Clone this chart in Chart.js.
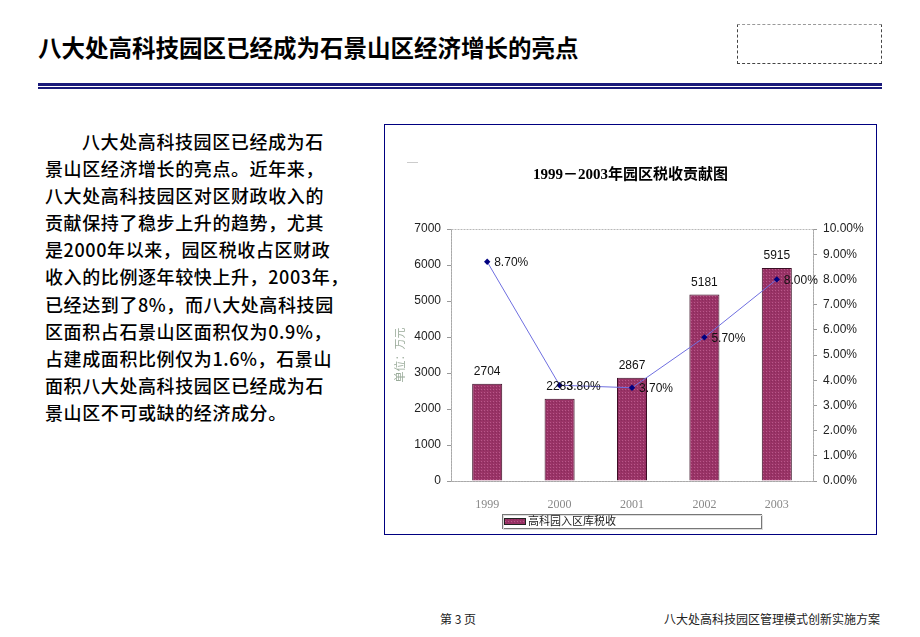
<!DOCTYPE html>
<html>
<head>
<meta charset="utf-8">
<script src="https://cdn.jsdelivr.net/npm/chart.js@4.4.1/dist/chart.umd.min.js"></script>
<style>
  html, body { margin: 0; padding: 0; background: #fff; }
  body { width: 920px; height: 637px; position: relative; overflow: hidden; font-family: "Noto Sans CJK SC", sans-serif; }
  #title { position: absolute; left: 38px; top: 34px; font-size: 23.5px; line-height: 26px; font-weight: 700; color: #000; white-space: nowrap; }
  #dashbox { position: absolute; left: 737px; top: 24px; width: 143px; height: 38px; border: 1px dashed #444; border-top-color: #999; }
  .rule1 { position: absolute; left: 38px; width: 844px; top: 83px; height: 3px; background: #1a1a7a; }
  .rule2 { position: absolute; left: 38px; width: 844px; top: 87px; height: 2px; background: #1a1a7a; }
  #para { position: absolute; left: 45px; top: 128px; font-size: 18px; line-height: 27.1px; font-weight: 500; color: #000; letter-spacing: 0.6px; white-space: nowrap; }
  #para .l1 { padding-left: 37px; }
  #frame { position: absolute; left: 384px; top: 124px; width: 491px; height: 409px; border: 1px solid #000080; }
  #chartwrap { position: absolute; left: 385px; top: 125px; width: 491px; height: 409px; }
  #dash2 { position: absolute; left: 407px; top: 162px; width: 11px; height: 1px; background: #ccc; }
  .foot { position: absolute; top: 611px; font-size: 12px; line-height: 16px; color: #222; white-space: pre; }
</style>
</head>
<body>
<div id="title">八大处高科技园区已经成为石景山区经济增长的亮点</div>
<div id="dashbox"></div>
<div class="rule1"></div>
<div class="rule2"></div>
<div id="para">
  <div class="l1">八大处高科技园区已经成为石</div>
  <div>景山区经济增长的亮点。近年来，</div>
  <div>八大处高科技园区对区财政收入的</div>
  <div>贡献保持了稳步上升的趋势，尤其</div>
  <div>是2000年以来，园区税收占区财政</div>
  <div>收入的比例逐年较快上升，2003年，</div>
  <div>已经达到了8%，而八大处高科技园</div>
  <div>区面积占石景山区面积仅为0.9%，</div>
  <div>占建成面积比例仅为1.6%，石景山</div>
  <div>面积八大处高科技园区已经成为石</div>
  <div>景山区不可或缺的经济成分。</div>
</div>
<div id="frame"></div>
<div id="chartwrap"><canvas id="c" width="491" height="409"></canvas></div>
<div id="dash2"></div>
<div class="foot" style="left:440px;">第 3 页</div>
<div class="foot" style="left:664px;">八大处高科技园区管理模式创新实施方案</div>

<script>
// ---- data ----
const years = ["1999", "2000", "2001", "2002", "2003"];
const taxValues = [2704, 2283, 2867, 5181, 5915];          // 万元
const sharePercent = [8.70, 3.80, 3.70, 5.70, 8.00];        // %
const barLabel = "高科园入区库税收";
const lineLabel = "园区税收占区财政收入比例";
const chartTitle = "1999－2003年园区税收贡献图";
const leftAxisTitle = "单位：万元";

// dotted maroon fill
function makePattern() {
  const p = document.createElement('canvas');
  p.width = 3; p.height = 3;
  const g = p.getContext('2d');
  g.fillStyle = '#993366'; g.fillRect(0, 0, 3, 3);
  g.fillStyle = '#b8588a'; g.fillRect(0, 0, 1, 1);
  g.fillStyle = '#8a2c5c'; g.fillRect(2, 1, 1, 1);
  return document.getElementById('c').getContext('2d').createPattern(p, 'repeat');
}
const barFill = makePattern();

const serif = "'Liberation Serif', 'Noto Sans CJK SC', serif";
const sans = "'Liberation Sans', Arial, sans-serif";

const labelsPlugin = {
  id: 'labelsPlugin',
  afterDatasetsDraw(chart) {
    const ctx = chart.ctx;
    ctx.save();
    const bm = chart.getDatasetMeta(0);
    ctx.font = "12px " + sans;
    ctx.fillStyle = '#111';
    ctx.textAlign = 'center';
    ctx.textBaseline = 'bottom';
    bm.data.forEach((el, i) => {
      ctx.fillText(String(chart.data.datasets[0].data[i]), el.x, el.y - 6);
    });
    const lm = chart.getDatasetMeta(1);
    ctx.textAlign = 'left';
    ctx.textBaseline = 'middle';
    lm.data.forEach((el, i) => {
      ctx.fillText(chart.data.datasets[1].data[i].toFixed(2) + '%', el.x + 7, el.y + 1);
    });
    ctx.restore();
  },
  beforeDatasetsDraw(chart) {
    const {ctx, chartArea: a} = chart;
    ctx.save();
    ctx.strokeStyle = '#b8b8b8';
    ctx.lineWidth = 1;
    ctx.setLineDash([2, 1]);
    ctx.strokeRect(Math.round(a.left) + 0.5, Math.round(a.top) + 0.5, Math.round(a.right - a.left), Math.round(a.bottom - a.top));
    ctx.restore();
  },
  afterDraw(chart) {
    const ctx = chart.ctx;
    const ds = chart.data.datasets[0];
    ctx.save();
    ctx.strokeStyle = '#777';
    ctx.lineWidth = 1;
    ctx.strokeRect(117.5, 389.5, 259, 14);
    ctx.strokeStyle = '#ddd';
    ctx.strokeRect(118.5, 390.5, 259, 14);
    ctx.fillStyle = ds.backgroundColor;
    ctx.fillRect(119, 393, 22, 7);
    ctx.strokeStyle = '#222';
    ctx.strokeRect(119.5, 393.5, 21, 6);
    ctx.fillStyle = '#222';
    ctx.font = "11px " + serif;
    ctx.textAlign = 'left';
    ctx.textBaseline = 'middle';
    ctx.fillText(ds.label, 143, 397);
    ctx.restore();
  }
};

new Chart(document.getElementById('c'), {
  data: {
    labels: years,
    datasets: [
      {
        type: 'bar',
        label: barLabel,
        data: taxValues,
        backgroundColor: barFill,
        borderColor: '#3a0d24',
        borderWidth: 1,
        barPercentage: 0.83,
        categoryPercentage: 0.5,
        yAxisID: 'y',
        order: 2
      },
      {
        type: 'line',
        label: lineLabel,
        data: sharePercent,
        borderColor: '#6f6fe0',
        borderWidth: 1,
        pointStyle: 'rectRot',
        pointRadius: 3.2,
        pointBackgroundColor: '#000080',
        pointBorderColor: '#000080',
        pointBorderWidth: 0,
        tension: 0,
        yAxisID: 'y1',
        order: 1
      }
    ]
  },
  options: {
    responsive: false,
    devicePixelRatio: 1,
    animation: false,
    layout: { padding: { top: 0, left: 0, right: 0, bottom: 24.5 } },
    plugins: {
      legend: { display: false },
      tooltip: { enabled: false },
      title: {
        display: true,
        text: chartTitle,
        color: '#000',
        font: { family: serif, size: 15, weight: 'bold', lineHeight: 1.2 },
        padding: { top: 41, bottom: 45 }
      }
    },
    scales: {
      x: {
        grid: { display: false, drawOnChartArea: false },
        border: { display: true, color: '#999' },
        ticks: { color: '#888', font: { family: serif, size: 12 }, padding: 9 },
        afterFit(s) { s.height = 28.5; }
      },
      y: {
        position: 'left',
        min: 0, max: 7000,
        ticks: { stepSize: 1000, color: '#222', font: { family: sans, size: 12 }, padding: 6,
                 callback: v => String(v) },
        grid: { drawOnChartArea: false, drawTicks: true, tickLength: 4, color: '#999' },
        border: { display: true, color: '#999' },
        title: { display: true, text: leftAxisTitle, color: '#9aab9a', font: { family: serif, size: 11 }, padding: { top: 10, bottom: 0 } },
        afterFit(s) { s.width = 66; }
      },
      y1: {
        position: 'right',
        min: 0, max: 10,
        ticks: { stepSize: 1, color: '#222', font: { family: sans, size: 12 }, padding: 6,
                 callback: v => Number(v).toFixed(2) + '%' },
        grid: { drawOnChartArea: false, drawTicks: true, tickLength: 4, color: '#999' },
        border: { display: true, color: '#999' },
        afterFit(s) { s.width = 63; }
      }
    }
  },
  plugins: [labelsPlugin]
});
</script>
</body>
</html>
